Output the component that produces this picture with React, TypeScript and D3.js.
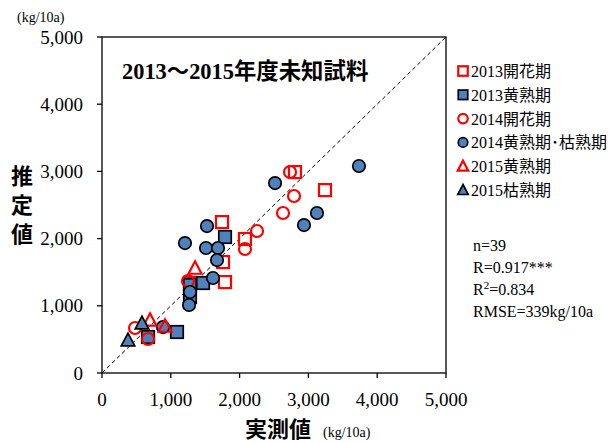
import React from "react";
import * as d3 from "d3";

const xTicks = [0, 1000, 2000, 3000, 4000, 5000];
const yTicks = [0, 1000, 2000, 3000, 4000, 5000];

// [measured, estimated]
const s2013Flower: [number, number][] = [
  [1744, 2247], [2078, 1994], [2805, 2991], [3241, 2723], [1759, 1652], [1788, 1354], [1279, 1339],
];
const s2013Yellow: [number, number][] = [
  [1788, 2024], [1279, 1309], [1468, 1339], [1279, 1131], [1090, 610], [669, 536],
];
const s2014Flower: [number, number][] = [
  [2733, 2991], [2791, 2634], [2631, 2381], [2253, 2113], [2078, 1845], [1250, 1369], [480, 670], [669, 506],
];
const s2014Yellow: [number, number][] = [
  [1206, 1934], [1526, 2187], [1512, 1860], [1686, 1860], [1672, 1681], [1613, 1414], [1265, 1012],
  [2515, 2827], [3735, 3080], [3125, 2381], [2936, 2202], [887, 684], [1279, 1205],
];
const s2015Yellow: [number, number][] = [
  [1352, 1562], [916, 699], [698, 789],
];
const s2015Dead: [number, number][] = [
  [378, 491], [581, 744],
];

const legendLabels = ["2013開花期", "2013黄熟期", "2014開花期", "2014黄熟期･枯熟期", "2015黄熟期", "2015枯熟期"];
const statLines = ["n=39", "R=0.917***", "R2=0.834", "RMSE=339kg/10a"];

const BLUE = "#4F81BD";
const RED = "#FF0000";
const SERIF = "'Liberation Serif', 'Times New Roman', 'Noto Sans CJK JP', serif";
const CJK = "'Noto Sans CJK JP', sans-serif";

type Shape = "square" | "circle" | "triangle";
const seriesDefs: { data: [number, number][]; shape: Shape; filled: boolean }[] = [
  { data: s2013Flower, shape: "square", filled: false },
  { data: s2013Yellow, shape: "square", filled: true },
  { data: s2014Flower, shape: "circle", filled: false },
  { data: s2014Yellow, shape: "circle", filled: true },
  { data: s2015Yellow, shape: "triangle", filled: false },
  { data: s2015Dead, shape: "triangle", filled: true },
];

function Marker({ x, y, shape, filled, size }: { x: number; y: number; shape: Shape; filled: boolean; size: number }) {
  const fill = filled ? BLUE : "none";
  const stroke = filled ? "#000" : RED;
  const sw = filled ? 1.7 : 2.2;
  if (shape === "circle") return <circle cx={x} cy={y} r={size / 2} fill={fill} stroke={stroke} strokeWidth={sw} />;
  if (shape === "square")
    return <rect x={x - size / 2} y={y - size / 2} width={size} height={size} fill={fill} stroke={stroke} strokeWidth={sw} />;
  const h = size * 0.95;
  const p = `M${x},${y - h / 2 - 1}L${x + size / 2 + 0.5},${y + h / 2}L${x - size / 2 - 0.5},${y + h / 2}Z`;
  return <path d={p} fill={fill} stroke={stroke} strokeWidth={sw} strokeLinejoin="miter" />;
}

export default function App() {
  const W = 612, H = 443;
  const x = d3.scaleLinear().domain([0, 5000]).range([102, 446]);
  const y = d3.scaleLinear().domain([0, 5000]).range([373, 37]);
  const fmt = d3.format(",");
  return (
    <svg width={W} height={H} style={{ position: "absolute", left: 0, top: 0, background: "#fff" }}>
      <rect x={0} y={0} width={W} height={H} fill="#fff" />
      <line x1={x(0)} y1={y(0)} x2={x(5000)} y2={y(5000)} stroke="#000" strokeWidth={1} strokeDasharray="4,3" />
      <rect x={x(0)} y={y(5000)} width={x(5000) - x(0)} height={y(0) - y(5000)} fill="none" stroke="#000" strokeWidth={1.3} />
      {yTicks.map((t) => (
        <g key={"y" + t}>
          <line x1={x(0) - 5} x2={x(0)} y1={y(t)} y2={y(t)} stroke="#000" strokeWidth={1.3} />
          <text x={x(0) - 19} y={y(t) + 6.5} textAnchor="end" fontFamily={SERIF} fontSize={19}>{fmt(t)}</text>
        </g>
      ))}
      {xTicks.map((t) => (
        <g key={"x" + t}>
          <line x1={x(t)} x2={x(t)} y1={y(0)} y2={y(0) + 5} stroke="#000" strokeWidth={1.3} />
          <text x={x(t)} y={y(0) + 33} textAnchor="middle" fontFamily={SERIF} fontSize={19}>{fmt(t)}</text>
        </g>
      ))}
      {seriesDefs.map((s, i) => (
        <g key={"s" + i}>
          {s.data.map((d, j) => (
            <Marker key={j} x={x(d[0])} y={y(d[1])} shape={s.shape} filled={s.filled} size={s.filled ? 12.5 : 12} />
          ))}
        </g>
      ))}
      <text x={122} y={79} fontFamily={SERIF} fontSize={22.4} fontWeight="bold">2013～2015年度未知試料</text>
      <text x={17} y={22} fontFamily={SERIF} fontSize={14}>(kg/10a)</text>
      {["推", "定", "値"].map((c, i) => (
        <text key={c} x={22} y={184 + i * 29} textAnchor="middle" fontFamily={CJK} fontSize={22} fontWeight="bold">{c}</text>
      ))}
      <text x={245} y={437} fontFamily={CJK} fontSize={22} fontWeight="bold">実測値</text>
      <text x={323} y={437} fontFamily={SERIF} fontSize={14}>(kg/10a)</text>
      {legendLabels.map((l, i) => {
        const s = seriesDefs[i];
        const ly = 71 + i * 23.8;
        return (
          <g key={l}>
            <Marker x={463} y={ly} shape={s.shape} filled={s.filled} size={9.5} />
            <text x={471} y={ly + 6} fontFamily={SERIF} fontSize={16}>{l}</text>
          </g>
        );
      })}
      <text x={473} y={251} fontFamily={SERIF} fontSize={16}>{statLines[0]}</text>
      <text x={473} y={273} fontFamily={SERIF} fontSize={16}>{statLines[1]}</text>
      <text x={473} y={295} fontFamily={SERIF} fontSize={16}>
        R<tspan dy={-6} fontSize={11}>2</tspan><tspan dy={6}>=0.834</tspan>
      </text>
      <text x={473} y={317} fontFamily={SERIF} fontSize={16}>{statLines[3]}</text>
    </svg>
  );
}
